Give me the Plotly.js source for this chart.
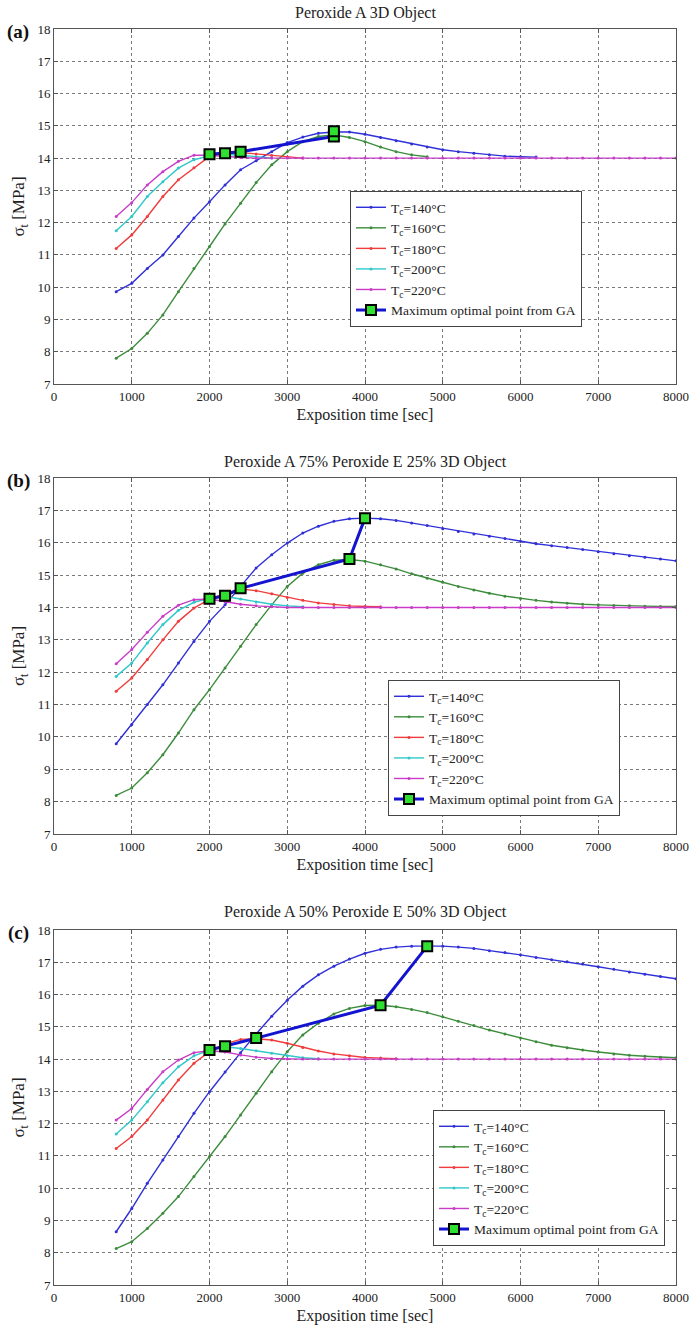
<!DOCTYPE html>
<html>
<head>
<meta charset="utf-8">
<script src="https://cdn.plot.ly/plotly-3.0.1.min.js"></script>
<style>html,body{margin:0;padding:0;background:#fff;}#chart{width:689px;height:1326px;}</style>
</head>
<body>
<div id="chart"></div>
<script>
// Exposition time [sec]
const time = [800,1000,1200,1400,1600,1800,2000,2200,2400,2600,2800,3000,3200,3400,3600,3800,4000,4200,4400,4600,4800,5000,5200,5400,5600,5800,6000,6200,6400,6600,6800,7000,7200,7400,7600,7800,8000];

const seriesNames = ["T<sub>c</sub>=140°C","T<sub>c</sub>=160°C","T<sub>c</sub>=180°C","T<sub>c</sub>=200°C","T<sub>c</sub>=220°C"];
const gaName = "Maximum optimal point from GA";
const panelTitles = ["Peroxide A 3D Object","Peroxide A 75% Peroxide E 25% 3D Object","Peroxide A 50% Peroxide E 50% 3D Object"];
const panelLabels = ["(a)","(b)","(c)"];

// Panel (a)
const a140 = [9.86,10.12,10.58,11.0,11.57,12.14,12.65,13.17,13.64,13.92,14.2,14.48,14.65,14.77,14.81,14.81,14.74,14.64,14.54,14.44,14.34,14.26,14.2,14.15,14.1,14.06,14.04,14.03];
const a160 = [7.8,8.1,8.57,9.14,9.86,10.58,11.26,11.96,12.6,13.24,13.79,14.2,14.51,14.67,14.72,14.64,14.51,14.34,14.2,14.1,14.04];
const a180 = [11.2,11.62,12.19,12.81,13.33,13.7,14.05,14.13,14.17,14.13,14.08,14.03,14.0];
const a200 = [11.75,12.19,12.81,13.27,13.69,13.95,14.07,14.12,14.09,14.04,14.0];
const a220 = [12.19,12.62,13.17,13.58,13.9,14.09,14.09,14.05,14.02,14.0,14.0,14.0,14.0,14.0,14.0,14.0,14.0,14.0,14.0,14.0,14.0,14.0,14.0,14.0,14.0,14.0,14.0,14.0,14.0,14.0,14.0,14.0,14.0,14.0,14.0,14.0,14.0];
const aGAx = [2000,2200,2400,3600,3600];
const aGAy = [14.12,14.15,14.2,14.67,14.83];

// Panel (b)
const b140 = [9.79,10.38,11.0,11.61,12.28,12.95,13.57,14.08,14.65,15.22,15.63,15.99,16.3,16.51,16.66,16.74,16.76,16.74,16.69,16.61,16.53,16.43,16.35,16.27,16.2,16.13,16.04,15.97,15.91,15.85,15.79,15.72,15.66,15.6,15.55,15.5,15.44];
const b160 = [8.19,8.42,8.89,9.45,10.12,10.84,11.46,12.13,12.8,13.47,14.08,14.65,15.06,15.32,15.46,15.48,15.43,15.32,15.19,15.04,14.9,14.78,14.65,14.54,14.44,14.35,14.28,14.22,14.17,14.13,14.1,14.08,14.06,14.05,14.04,14.03,14.03];
const b180 = [11.41,11.82,12.39,13.0,13.57,13.98,14.26,14.43,14.57,14.52,14.42,14.31,14.22,14.14,14.09,14.05,14.03,14.02];
const b200 = [11.87,12.28,12.9,13.47,13.91,14.16,14.28,14.34,14.26,14.17,14.1,14.05,14.02];
const b220 = [12.26,12.7,13.23,13.73,14.07,14.24,14.26,14.18,14.1,14.05,14.02,14.0,14.0,14.0,14.0,14.0,14.0,14.0,14.0,14.0,14.0,14.0,14.0,14.0,14.0,14.0,14.0,14.0,14.0,14.0,14.0,14.0,14.0,14.0,14.0,14.0,14.0];
const bGAx = [2000,2200,2400,3800,4000];
const bGAy = [14.27,14.36,14.59,15.5,16.76];

// Panel (c)
const c140 = [8.65,9.37,10.15,10.87,11.6,12.32,12.99,13.6,14.2,14.78,15.33,15.82,16.26,16.61,16.88,17.1,17.28,17.4,17.47,17.5,17.51,17.5,17.47,17.43,17.36,17.3,17.23,17.15,17.08,17.02,16.95,16.86,16.78,16.7,16.63,16.56,16.49];
const c160 = [8.13,8.34,8.75,9.22,9.74,10.36,10.98,11.6,12.27,12.94,13.61,14.23,14.75,15.11,15.4,15.57,15.66,15.67,15.62,15.54,15.44,15.31,15.17,15.04,14.9,14.78,14.65,14.54,14.43,14.35,14.28,14.22,14.16,14.12,14.09,14.06,14.04];
const c180 = [11.23,11.6,12.11,12.73,13.35,13.87,14.23,14.47,14.61,14.63,14.59,14.49,14.36,14.25,14.16,14.1,14.05,14.03,14.01];
const c200 = [11.68,12.11,12.68,13.27,13.76,14.1,14.28,14.38,14.33,14.26,14.18,14.1,14.04,14.01];
const c220 = [12.11,12.47,13.06,13.61,13.97,14.2,14.26,14.22,14.13,14.06,14.02,14.0,14.0,14.0,14.0,14.0,14.0,14.0,14.0,14.0,14.0,14.0,14.0,14.0,14.0,14.0,14.0,14.0,14.0,14.0,14.0,14.0,14.0,14.0,14.0,14.0,14.0];
const cGAx = [2000,2200,2600,4200,4800];
const cGAy = [14.28,14.4,14.65,15.67,17.5];

const colors = ["#3030d8","#3c8c3c","#f03c3c","#30c8c8","#c83cc8"];
const FONT = "Liberation Serif, Times New Roman, serif";

const panels = [
  {curves:[a140,a160,a180,a200,a220], gx:aGAx, gy:aGAy},
  {curves:[b140,b160,b180,b200,b220], gx:bGAx, gy:bGAy},
  {curves:[c140,c160,c180,c200,c220], gx:cGAx, gy:cGAy}
];

const traces = [];
panels.forEach((p, i) => {
  const sfx = i === 0 ? "" : String(i + 1);
  const lg = "legend" + sfx;
  p.curves.forEach((ys, k) => {
    traces.push({
      type: "scatter", mode: "lines+markers",
      x: time.slice(0, ys.length), y: ys,
      name: seriesNames[k],
      line: {color: colors[k], width: 1.4},
      marker: {color: colors[k], size: 3},
      xaxis: "x" + sfx, yaxis: "y" + sfx, legend: lg
    });
  });
  traces.push({
    type: "scatter", mode: "lines+markers",
    x: p.gx, y: p.gy, name: gaName,
    line: {color: "#1414d0", width: 3},
    marker: {symbol: "square", size: 10, color: "#30e030", line: {color: "#000", width: 2}},
    xaxis: "x" + sfx, yaxis: "y" + sfx, legend: lg
  });
});

const H = 1326;
const domains = [[29,384],[478,834],[930,1285]];
const legendPos = [[350,191],[388,680],[433,1110]];
const titleY = [13,462,912];
const plotL = 54, plotW = 622;

const layout = {
  width: 689, height: 1326,
  margin: {l: 54, r: 13, t: 0, b: 0},
  paper_bgcolor: "#fff", plot_bgcolor: "#fff",
  font: {family: FONT, color: "#222"},
  showlegend: true,
  annotations: []
};

domains.forEach((d, i) => {
  const sfx = i === 0 ? "" : String(i + 1);
  layout["xaxis" + sfx] = {
    domain: [0, 1], anchor: "y" + sfx, range: [0, 8000], dtick: 1000, tick0: 0,
    showgrid: true, gridcolor: "#7a7a7a", griddash: "dot", gridwidth: 1,
    showline: true, linecolor: "#555", linewidth: 1, mirror: "ticks",
    ticks: "inside", ticklen: 4, tickcolor: "#555", zeroline: false,
    tickfont: {family: FONT, size: 13, color: "#222"},
    title: {text: "Exposition time [sec]", font: {family: FONT, size: 16, color: "#222"}, standoff: 6}
  };
  layout["yaxis" + sfx] = {
    domain: [1 - d[1] / H, 1 - d[0] / H], anchor: "x" + sfx, range: [7, 18], dtick: 1, tick0: 7,
    showgrid: true, gridcolor: "#7a7a7a", griddash: "dot", gridwidth: 1,
    showline: true, linecolor: "#555", linewidth: 1, mirror: "ticks",
    ticks: "inside", ticklen: 4, tickcolor: "#555", zeroline: false,
    tickfont: {family: FONT, size: 13, color: "#222"},
    title: {text: "σ<sub>t</sub> [MPa]", font: {family: FONT, size: 17, color: "#222"}, standoff: 8}
  };
  const lp = legendPos[i];
  layout["legend" + sfx] = {
    x: (lp[0] - plotL) / plotW, y: 1 - lp[1] / H, xref: "paper", yref: "paper",
    xanchor: "left", yanchor: "top",
    bgcolor: "#fff", bordercolor: "#444", borderwidth: 1,
    font: {family: FONT, size: 13.5, color: "#222"},
    itemwidth: 30, tracegroupgap: 0
  };
  layout.annotations.push({
    text: panelTitles[i], xref: "paper", yref: "paper",
    x: 0.5, y: 1 - titleY[i] / H, xanchor: "center", yanchor: "middle",
    showarrow: false, font: {family: FONT, size: 16, color: "#222"}
  });
  layout.annotations.push({
    text: "<b>" + panelLabels[i] + "</b>", xref: "paper", yref: "paper",
    x: (18 - plotL) / plotW, y: 1 - (d[0] + 3) / H, xanchor: "center", yanchor: "middle",
    showarrow: false, font: {family: FONT, size: 19, color: "#111"}
  });
});

Plotly.newPlot("chart", traces, layout, {displayModeBar: false, staticPlot: true});
</script>
</body>
</html>
